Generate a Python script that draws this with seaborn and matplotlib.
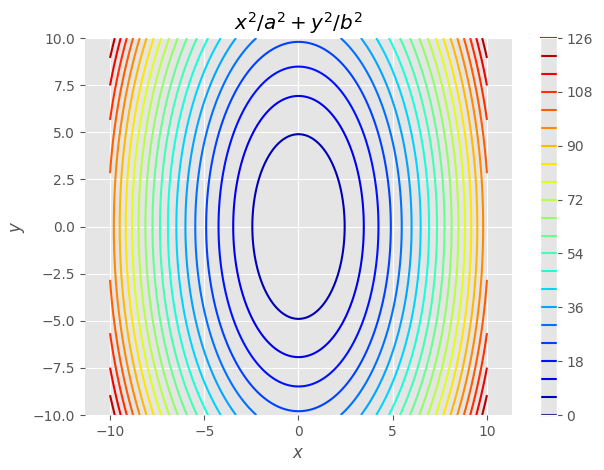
import numpy as np
import matplotlib
matplotlib.use("Agg")
import matplotlib.pyplot as plt
import seaborn as sns

# ellipse parameters and contour levels
a = 1.0
b = 2.0
x_range = [-10, 10]
y_range = [-10, 10]
levels = np.arange(0, 127, 6)

plt.style.use("ggplot")

x = np.linspace(x_range[0], x_range[1], 401)
y = np.linspace(y_range[0], y_range[1], 401)
X, Y = np.meshgrid(x, y)
Z = X**2 / a**2 + Y**2 / b**2

fig = plt.figure(figsize=(6.04, 4.7), dpi=100)
ax = fig.add_axes([0.1407, 0.117, 0.707, 0.802])
cax = fig.add_axes([0.894, 0.117, 0.028, 0.802])

cs = ax.contour(X, Y, Z, levels=levels, cmap="jet")
fig.colorbar(cs, cax=cax)
ax.axis("equal")
ax.set_ylim(y_range)
ax.set_title("$x^2/a^2 + y^2/b^2$")
ax.set_xlabel("$x$")
ax.set_ylabel("$y$")
sns.despine(ax=ax, left=True, bottom=True)

plt.savefig("out.png")
